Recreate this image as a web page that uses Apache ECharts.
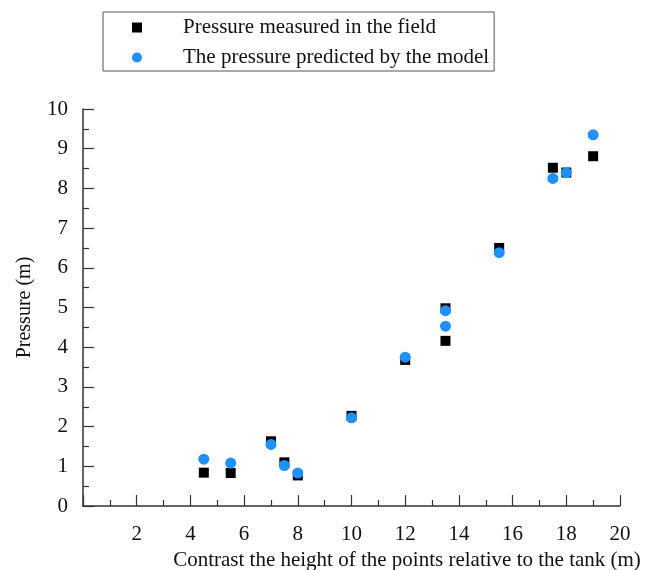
<!DOCTYPE html>
<html>
<head>
<meta charset="utf-8">
<script src="https://cdn.jsdelivr.net/npm/echarts@6/dist/echarts.min.js"></script>
<style>
  html, body { margin: 0; padding: 0; background: #fff; }
  #chart { width: 646px; height: 570px; }
</style>
</head>
<body>
<div id="chart"></div>
<script>
// 数据：横坐标（相对水池高差）和压力值
const heightX = [4.5, 5.5, 7, 7.5, 8, 10, 12, 13.5, 13.5, 15.5, 17.5, 18, 19];
const measuredY = [0.84, 0.83, 1.63, 1.1, 0.77, 2.27, 3.68, 4.98, 4.16, 6.5, 8.52, 8.4, 8.81];
const predictedY = [1.18, 1.08, 1.55, 1.02, 0.83, 2.22, 3.75, 4.92, 4.53, 6.38, 8.25, 8.4, 9.35];
const xTicks = [2, 4, 6, 8, 10, 12, 14, 16, 18, 20];
const yTicks = [0, 1, 2, 3, 4, 5, 6, 7, 8, 9, 10];

const seriesNames = ["Pressure measured in the field", "The pressure predicted by the model"];

const FONT = "'Liberation Serif', 'Times New Roman', serif";

const pairs = (xs, ys) => xs.map((x, i) => [x, ys[i]]);

const chart = echarts.init(document.getElementById("chart"), undefined, { renderer: "canvas" });

const axisCommon = {
  axisLine: { show: true, lineStyle: { color: "#333", width: 1.5 } },
  axisTick: { show: true, inside: true, length: 11, lineStyle: { color: "#333", width: 1.2 } },
  minorTick: { show: true, splitNumber: 2, length: 6, lineStyle: { color: "#333", width: 1.2 } },
  splitLine: { show: false },
};

chart.setOption({
  animation: false,
  textStyle: { fontFamily: FONT },
  // 关掉v6的外边界自动收缩，网格位置按像素定
  grid: { left: 83, right: 26, top: 109, bottom: 64, containLabel: false, outerBoundsMode: "none" },
  legend: {
    orient: "vertical",
    left: 103,
    top: 12,
    padding: [5, 5, 3, 29],
    itemGap: 9,
    itemWidth: 10,
    itemHeight: 10,
    borderColor: "#555",
    borderWidth: 1,
    selectedMode: false,
    data: seriesNames,
    textStyle: { fontFamily: FONT, fontSize: 21, lineHeight: 21, color: "#111", padding: [0, 0, 0, 36] },
  },
  xAxis: {
    ...axisCommon,
    type: "value",
    min: 0,
    max: 20,
    interval: 2,
    name: "Contrast the height of the points relative to the tank (m)",
    nameLocation: "middle",
    nameGap: 37,
    nameTextStyle: { fontFamily: FONT, fontSize: 21, color: "#111", padding: [0, 0, 0, 111] },
    axisLabel: {
      fontFamily: FONT, fontSize: 21, color: "#111", margin: 18,
      formatter: (v) => (xTicks.includes(v) ? String(v) : ""),
    },
  },
  yAxis: {
    ...axisCommon,
    type: "value",
    min: 0,
    max: 10,
    interval: 1,
    name: "Pressure (m)",
    nameLocation: "middle",
    nameGap: 48,
    nameTextStyle: { fontFamily: FONT, fontSize: 20, color: "#111" },
    axisLabel: {
      fontFamily: FONT, fontSize: 21, color: "#111", margin: 15,
      formatter: (v) => (yTicks.includes(v) ? String(v) : ""),
    },
  },
  series: [
    {
      name: seriesNames[0],
      type: "scatter",
      symbol: "rect",
      symbolSize: 10,
      itemStyle: { color: "#000", opacity: 1 },
      data: pairs(heightX, measuredY),
    },
    {
      name: seriesNames[1],
      type: "scatter",
      symbol: "circle",
      symbolSize: 11,
      itemStyle: { color: "#1E90FF", opacity: 1 },
      data: pairs(heightX, predictedY),
    },
  ],
});
</script>
</body>
</html>
